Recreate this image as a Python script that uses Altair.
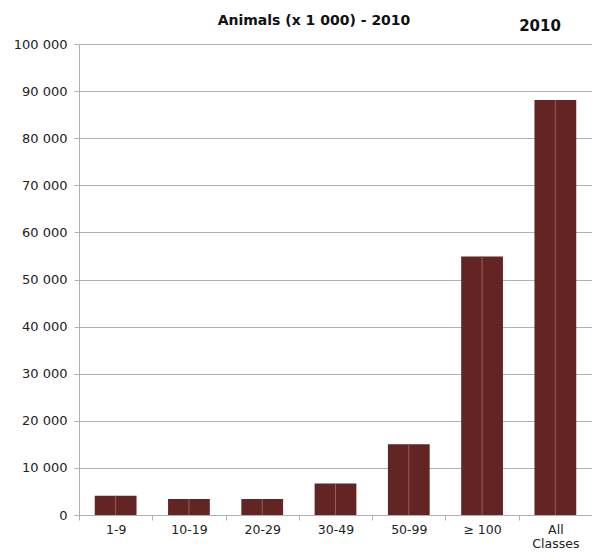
import altair as alt
import pandas as pd

categories = ["1-9", "10-19", "20-29", "30-49", "50-99", "≥ 100", "All Classes"]
values = [4100, 3400, 3400, 6700, 15000, 54900, 88100]
title_text = "Animals (x 1 000) - 2010"
legend_text = "2010"

df = pd.DataFrame({"cls": categories, "animals": values})

FONT = "DejaVu Sans"

x_enc = alt.X(
    "cls:N", sort=categories, title=None,
    scale=alt.Scale(paddingInner=0, paddingOuter=0),
    axis=alt.Axis(
        labelAngle=0, tickBand="extent", labelFont=FONT, labelFontSize=12.5,
        labelColor="#222", domainColor="#b0b0b0", tickColor="#b0b0b0", tickSize=5,
        labelPadding=3, grid=False, labelLineHeight=14,
        labelExpr="datum.label == 'All Classes' ? ['All', 'Classes'] : datum.label",
    ),
)
y_enc = alt.Y(
    "animals:Q", title=None,
    scale=alt.Scale(domain=[0, 100000]),
    axis=alt.Axis(
        values=list(range(0, 100001, 10000)), labelFont=FONT, labelFontSize=13,
        labelColor="#222", domainColor="#b0b0b0", tickColor="#b0b0b0", tickSize=5,
        gridColor="#b0b0b0", labelPadding=7,
        labelExpr="replace(format(datum.value, ','), ',', ' ')",
    ),
)

bars = alt.Chart(df).mark_bar(
    color="#632523", width=alt.RelativeBandSize(0.57)
).encode(x=x_enc, y=y_enc)

mid = alt.Chart(df).mark_rule(color="#9a5c5a", strokeWidth=1).encode(
    x=alt.X("cls:N", sort=categories),
    y=alt.Y("animals:Q"),
    y2=alt.datum(0),
)

title_mark = alt.Chart(pd.DataFrame({"t": [title_text]})).mark_text(
    font=FONT, fontSize=14, fontWeight="bold", color="#111", align="center",
    baseline="middle"
).encode(text="t:N", x=alt.value(235), y=alt.value(-23))

legend_mark = alt.Chart(pd.DataFrame({"t": [legend_text]})).mark_text(
    font=FONT, fontSize=15, fontWeight="bold", color="#111", align="center",
    baseline="middle"
).encode(text="t:N", x=alt.value(461), y=alt.value(-18))

chart = alt.layer(bars, mid, title_mark, legend_mark).properties(
    width=513, height=471,
    autosize=alt.AutoSizeParams(type="none"),
    padding={"left": 71, "top": 36, "right": 0, "bottom": 37},
).configure_view(stroke=None)

chart.save("out.html", embed_options={"renderer": "svg", "actions": False})
